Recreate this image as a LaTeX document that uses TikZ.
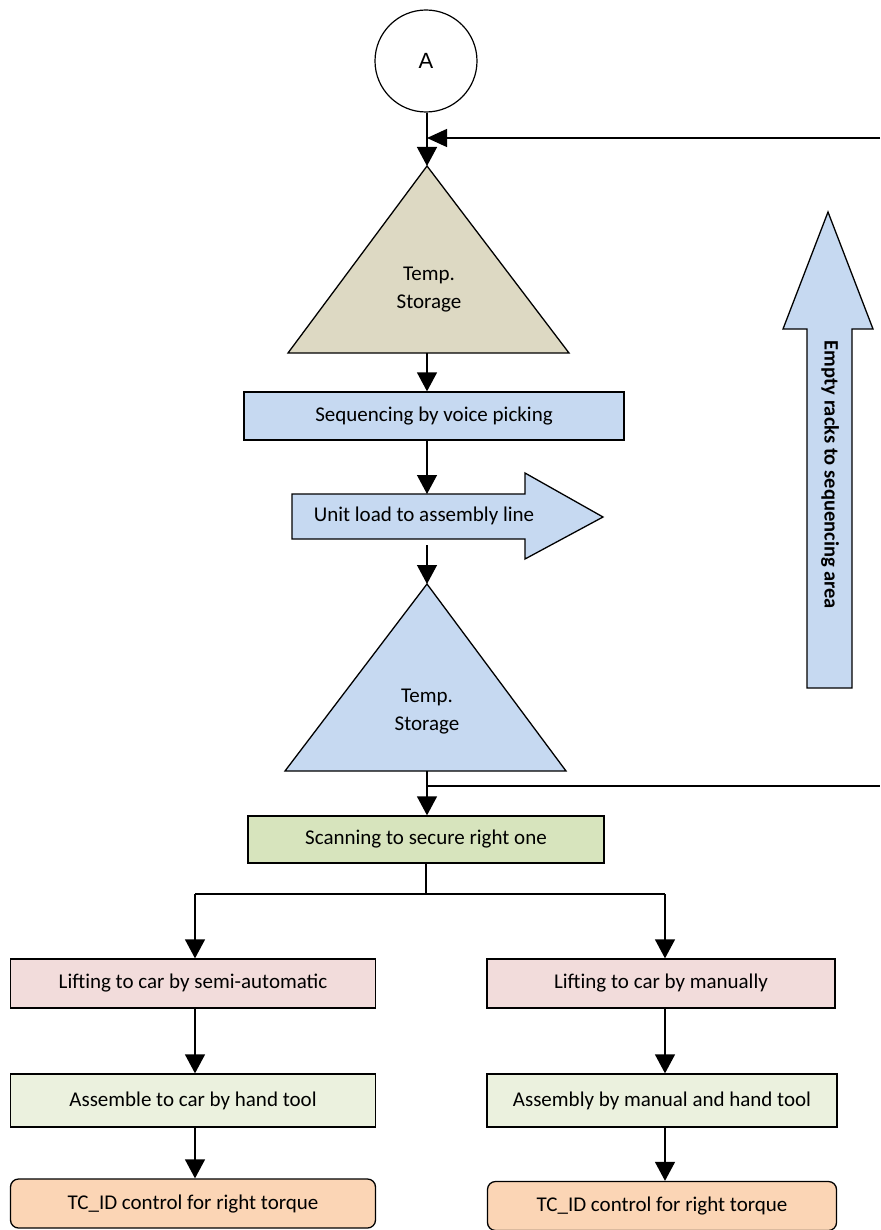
\documentclass[tikz,border=0pt]{standalone}
\usepackage{fontspec}
\setmainfont{Carlito}
\newfontfamily\arialfont{Liberation Sans}
\usetikzlibrary{arrows.meta}

\definecolor{tanfill}{HTML}{DDD9C3}
\definecolor{bluefill}{HTML}{C6D9F1}
\definecolor{scanfill}{HTML}{D7E4BD}
\definecolor{pinkfill}{HTML}{F2DCDB}
\definecolor{mintfill}{HTML}{EBF1DE}
\definecolor{peachfill}{HTML}{FBD5B5}

\begin{document}
\begin{tikzpicture}[x=1pt,y=-1pt,line width=1.3pt,
  flow/.style={-{Triangle[width=20pt,length=19pt]}},
  back/.style={-{Triangle[width=18pt,length=20pt]}},
  label/.style={font=\fontsize{21}{28}\selectfont,align=center,inner sep=0pt},
  box/.style={draw,rectangle,inner sep=0pt,minimum height=48pt,
              font=\fontsize{21}{25}\selectfont},
  shape fill/.style={draw,line join=miter}]
\useasboundingbox (0,0) rectangle (880,1230);

% start connector
\node[draw,circle,minimum size=102pt,inner sep=0pt,line width=1.2pt,
      font=\arialfont\fontsize{22}{26}\selectfont] (A) at (426,61) {A};

% first temporary storage
\coordinate (t1top) at (427,166);
\coordinate (t1base) at (427,353);
\draw[shape fill,fill=tanfill] (t1top) -- (569,353) -- (288,353) -- cycle;
\node[label] (t1text) at (429,290) {Temp.\\Storage};

% sequencing
\node[box,fill=bluefill,minimum width=380pt] (seq) at (434,416) {Sequencing by voice picking};

% unit load block arrow
\coordinate (uatop) at (427,494);
\coordinate (uabot) at (427,545);
\draw[shape fill,fill=bluefill] (292,494) -- (525,494) -- (525,473) -- (603,517)
  -- (525,559) -- (525,539) -- (292,539) -- cycle;
\node[label] (unit) at (424,516) {Unit load to assembly line};

% second temporary storage
\coordinate (t2top) at (427,584);
\coordinate (t2base) at (427,771);
\draw[shape fill,fill=bluefill] (t2top) -- (566,771) -- (285,771) -- cycle;
\node[label] (t2text) at (427,712) {Temp.\\Storage};

% scanning
\node[box,fill=scanfill,minimum width=356pt,minimum height=47pt] (scan) at (426,839.5) {Scanning to secure right one};

% left branch
\node[box,fill=pinkfill,minimum width=365pt,minimum height=49pt] (l1) at (193,983.5) {Lifting to car by semi-automatic};
\node[box,fill=mintfill,minimum width=365pt,minimum height=53pt] (l2) at (193,1100.5) {Assemble to car by hand tool};
\node[box,fill=peachfill,rounded corners=8pt,minimum width=365pt,minimum height=49pt] (l3) at (193,1203.5) {TC\_ID control for right torque};

% right branch
\node[box,fill=pinkfill,minimum width=348pt,minimum height=49pt] (r1) at (661,983.5) {Lifting to car by manually};
\node[box,fill=mintfill,minimum width=350pt,minimum height=53pt] (r2) at (662,1100.5) {Assembly by manual and hand tool};
\node[box,fill=peachfill,rounded corners=8pt,minimum width=349pt,minimum height=49pt] (r3) at (662,1206) {TC\_ID control for right torque};

% empty racks return arrow
\draw[shape fill,fill=bluefill] (828,212) -- (873,329) -- (852,329) -- (852,688)
  -- (807,688) -- (807,329) -- (783,329) -- cycle;
\node[font=\bfseries\fontsize{20.5}{24}\selectfont,rotate=-90,inner sep=0pt] (empty) at (830,475)
  {Empty racks to sequencing area};

% connectors
\coordinate (fbL) at (427,138);
\coordinate (fbR) at (880,138);
\coordinate (j2) at (427,786);
\coordinate (j2R) at (880,786);
\coordinate (split) at (426,894);
\coordinate (splitL) at (195,894);
\coordinate (splitR) at (665,894);

\draw[flow] (A.south -| t1top) -- (t1top);
\draw[back] (fbR) -- (fbL);
\draw[flow] (t1base) -- (t1base |- seq.north);
\draw[flow] (t1base |- seq.south) -- (uatop);
\draw[flow] (uabot) -- (t2top);
\draw (j2) -- (j2R);
\draw[flow] (t2base) -- (t2base |- scan.north);
\draw (scan.south) -- (split);
\draw (splitL) -- (splitR);
\draw[flow] (splitL) -- (splitL |- l1.north);
\draw[flow] (splitR) -- (splitR |- r1.north);
\draw[flow] (splitL |- l1.south) -- (splitL |- l2.north);
\draw[flow] (splitR |- r1.south) -- (splitR |- r2.north);
\draw[flow] (splitL |- l2.south) -- (splitL |- l3.north);
\draw[flow] (splitR |- r2.south) -- (splitR |- r3.north);
\end{tikzpicture}
\end{document}
